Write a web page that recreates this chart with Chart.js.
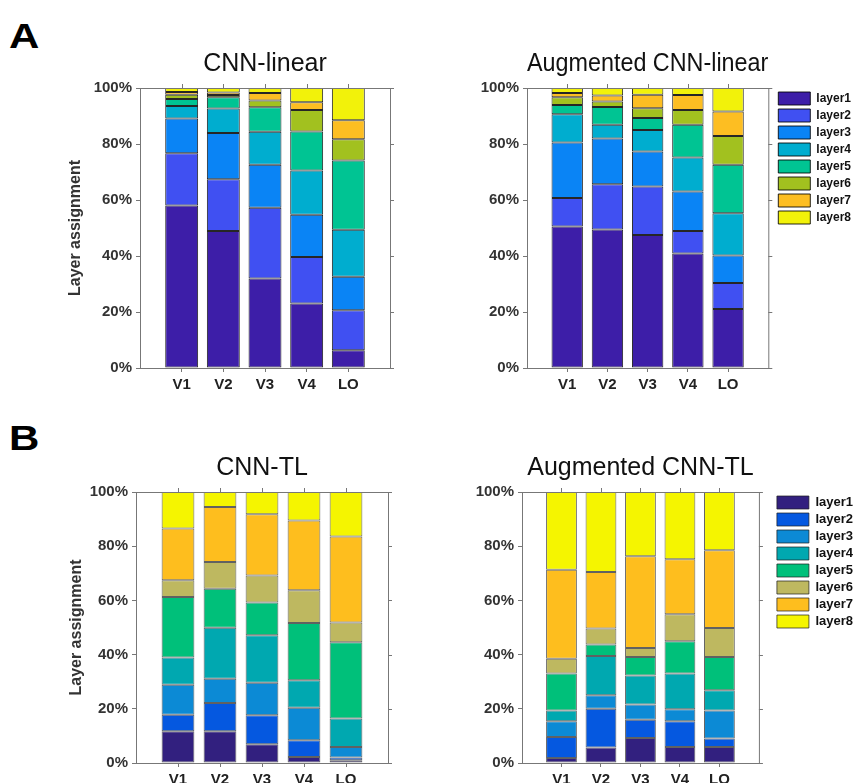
<!DOCTYPE html>
<html>
<head>
<meta charset="utf-8">
<script src="https://cdn.jsdelivr.net/npm/chart.js@4.4.1/dist/chart.umd.min.js"></script>
<style>
  body { margin: 0; background: #fff; }
  #fig { position: relative; width: 853px; height: 783px; overflow: hidden; }
  #fig canvas { position: absolute; }
  .panel { position: absolute; font: bold 35px "Liberation Sans", Arial, sans-serif; line-height: 35px;
           transform: scaleX(1.2); transform-origin: left top; color: #000; }
</style>
</head>
<body>
<div id="fig">
  <div class="panel" style="left:9px;top:18px">A</div>
  <div class="panel" style="left:9px;top:420px">B</div>
  <canvas id="cnnLinear" width="430" height="400" style="left:0;top:0"></canvas>
  <canvas id="augLinear" width="423" height="400" style="left:430px;top:0"></canvas>
  <canvas id="cnnTL" width="430" height="383" style="left:0;top:400px"></canvas>
  <canvas id="augTL" width="423" height="383" style="left:430px;top:400px"></canvas>
</div>
<script>
var areas = ["V1", "V2", "V3", "V4", "LO"];
var layerNames = ["layer1", "layer2", "layer3", "layer4", "layer5", "layer6", "layer7", "layer8"];

// rows = layer1..layer8, columns = V1, V2, V3, V4, LO (percent)
var cnnLinear = [
  [58.0, 48.9, 32.0, 23.0, 6.3],
  [18.7, 18.5, 25.2, 16.6, 14.3],
  [12.4, 16.5, 15.4, 15.1, 12.0],
  [4.5, 8.8, 11.8, 15.8, 16.8],
  [2.5, 4.0, 8.7, 14.0, 24.7],
  [1.5, 0.8, 2.4, 7.6, 7.6],
  [1.0, 0.9, 2.7, 2.8, 6.8],
  [1.4, 1.6, 1.8, 5.1, 11.5]
];
var augCnnLinear = [
  [50.5, 49.5, 47.5, 40.9, 21.1],
  [10.2, 16.1, 17.3, 8.0, 9.3],
  [19.8, 16.4, 12.5, 14.1, 9.8],
  [10.1, 4.9, 7.7, 12.2, 15.1],
  [3.3, 6.3, 4.3, 11.7, 17.3],
  [2.8, 2.0, 3.5, 5.2, 10.3],
  [1.5, 2.1, 4.8, 5.4, 8.7],
  [1.8, 2.7, 2.4, 2.5, 8.4]
];
var cnnTL = [
  [11.7, 11.7, 6.9, 2.2, 1.0],
  [6.1, 10.4, 10.7, 6.2, 1.0],
  [11.1, 9.0, 12.0, 12.0, 3.9],
  [10.0, 18.8, 17.5, 10.1, 10.5],
  [22.4, 14.4, 12.1, 21.2, 28.2],
  [6.1, 9.9, 10.0, 12.0, 7.2],
  [19.1, 20.3, 22.6, 25.8, 31.8],
  [13.5, 5.5, 8.2, 10.5, 16.4]
];
var augCnnTL = [
  [1.8, 5.7, 9.2, 5.9, 5.9],
  [7.8, 14.3, 6.8, 9.5, 3.1],
  [5.8, 5.0, 5.6, 4.4, 10.4],
  [4.0, 14.5, 10.7, 13.2, 7.4],
  [13.6, 4.2, 6.8, 11.9, 12.3],
  [5.5, 5.9, 3.3, 10.0, 10.7],
  [32.8, 20.9, 33.9, 20.3, 28.7],
  [28.7, 29.5, 23.7, 24.8, 21.5]
];
var yTicks = [0, 20, 40, 60, 80, 100];

var colorsA = ["#3D1EA8", "#4050F2", "#0A84F5", "#00ADCF", "#00C493", "#A2C11F", "#FDBE22", "#F2F20A"];
var colorsB = ["#32207F", "#0558E0", "#0C8AD5", "#00A8B0", "#00C07A", "#BEB860", "#FEBE1E", "#F5F500"];

Chart.defaults.font.family = '"Liberation Sans", Arial, sans-serif';
Chart.defaults.animation = false;

// MATLAB style box: frame round the plot plus outward ticks on top and right
var boxPlugin = {
  id: "box",
  afterLayout: function(chart) {
    var s = chart.options.plugins.box.legendShift || 0;
    if (chart.legend && chart.options.plugins.legend.display) {
      chart.legend.left += s;
      chart.legend.right += s;
    }
  },
  afterDraw: function(chart) {
    var a = chart.chartArea, ctx = chart.ctx;
    ctx.save();
    ctx.strokeStyle = "#777";
    ctx.lineWidth = 1;
    ctx.strokeRect(a.left + 0.5, a.top + 0.5, a.right - a.left, a.bottom - a.top);
    ctx.beginPath();
    chart.scales.x.ticks.forEach(function(t) {
      var px = Math.round(chart.scales.x.getPixelForValue(t.value)) + 0.5;
      ctx.moveTo(px, a.top);
      ctx.lineTo(px, a.top - 4);
    });
    chart.scales.y.ticks.forEach(function(t) {
      var py = Math.round(chart.scales.y.getPixelForValue(t.value)) + 0.5;
      ctx.moveTo(a.right, py);
      ctx.lineTo(a.right + 4, py);
    });
    ctx.stroke();
    ctx.restore();
  }
};

function makeChart(id, rows, colors, c) {
  return new Chart(document.getElementById(id), {
    type: "bar",
    data: {
      datasets: rows.map(function(r, i) {
        return {
          label: layerNames[i],
          data: r.map(function(v, j) { return { x: j + 1, y: v }; }),
          backgroundColor: colors[i],
          borderColor: c.edge,
          borderWidth: 1,
          borderSkipped: false,
          barPercentage: c.barPct,
          categoryPercentage: 1
        };
      })
    },
    options: {
      responsive: false,
      layout: { padding: c.pad },
      plugins: {
        title: {
          display: true, text: c.title, fullSize: false, color: "#111",
          font: { size: 25, weight: "normal" },
          padding: { top: 0, bottom: 9 }
        },
        legend: {
          display: c.legend, position: "right", align: "start", fullSize: false,
          labels: { boxWidth: 32, boxHeight: 13, padding: 4, color: "#111",
                    font: { size: c.legendFont, weight: "bold" } }
        },
        tooltip: { enabled: false },
        box: { legendShift: c.legendShift }
      },
      scales: {
        x: {
          type: "linear", min: 0, max: 6, stacked: true, offset: false,
          afterBuildTicks: function(s) { s.ticks = areas.map(function(a, i) { return { value: i + 1 }; }); },
          ticks: {
            autoSkip: false, maxRotation: 0, padding: 4, color: "#222",
            font: { size: 15, weight: "bold" },
            callback: function(v) { return areas[v - 1]; }
          },
          grid: { offset: false, drawOnChartArea: false, tickLength: 4, color: "#777" },
          border: { color: "#777" },
          afterFit: function(s) { s.height = c.xh; }
        },
        y: {
          stacked: true, min: 0, max: 100,
          afterBuildTicks: function(s) { s.ticks = yTicks.map(function(v) { return { value: v }; }); },
          ticks: {
            padding: 4, color: "#333",
            font: { size: 15, weight: "bold" },
            callback: function(v) { return v + "%"; }
          },
          grid: { drawOnChartArea: false, tickLength: 4, color: "#777" },
          border: { color: "#777" },
          title: {
            display: !!c.yTitle, text: c.yTitle || "", color: "#333",
            font: { size: 16, weight: "bold" }, padding: { top: 6, bottom: 0 }
          },
          afterFit: function(s) { s.width = c.yw; }
        }
      }
    },
    plugins: [boxPlugin]
  });
}

makeChart("cnnLinear", cnnLinear, colorsA, {
  title: "CNN-linear", yTitle: "Layer assignment", legend: false, legendFont: 12, legendShift: 0,
  pad: { left: 60, right: 40, top: 49, bottom: 2 }, yw: 80, xh: 30, barPct: 0.79, edge: "rgba(0,0,0,0.85)"
});
makeChart("augLinear", augCnnLinear, colorsA, {
  title: "Augmented CNN-linear", yTitle: null, legend: true, legendFont: 12, legendShift: 6,
  pad: { left: 45, right: -2, top: 49, bottom: 2 }, yw: 52, xh: 30, barPct: 0.78, edge: "rgba(0,0,0,0.85)"
});
makeChart("cnnTL", cnnTL, colorsB, {
  title: "CNN-TL", yTitle: "Layer assignment", legend: false, legendFont: 13, legendShift: 0,
  pad: { left: 61, right: 42, top: 53, bottom: 0 }, yw: 75, xh: 20, barPct: 0.78, edge: "rgba(30,30,30,0.7)"
});
makeChart("augTL", augCnnTL, colorsB, {
  title: "Augmented CNN-TL", yTitle: null, legend: true, legendFont: 13, legendShift: 14,
  pad: { left: 40, right: 4, top: 53, bottom: 0 }, yw: 52, xh: 20, barPct: 0.78, edge: "rgba(30,30,30,0.7)"
});
</script>
</body>
</html>
